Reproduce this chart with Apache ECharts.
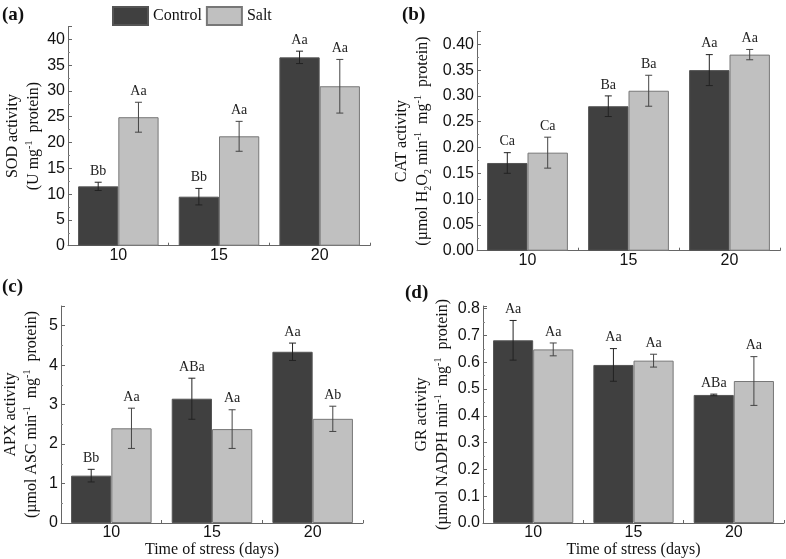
<!DOCTYPE html>
<html>
<head>
<meta charset="utf-8">
<script src="https://cdn.jsdelivr.net/npm/echarts@6/dist/echarts.min.js"></script>
<style>
html,body{margin:0;padding:0;background:#fff;}
#chart{width:786px;height:559px;}
</style>
</head>
<body>
<div id="chart"></div>
<script>
// ---- data ----
var categories = ['10', '15', '20'];
var seriesNames = ['Control', 'Salt'];

var sodControl = [11.5, 9.5, 36.5];
var sodControlErr = [0.8, 1.6, 1.2];
var sodSalt = [24.9, 21.2, 30.9];
var sodSaltErr = [2.9, 2.9, 5.2];
var sodControlLbl = ['Bb', 'Bb', 'Aa'];
var sodSaltLbl = ['Aa', 'Aa', 'Aa'];

var catControl = [0.17, 0.28, 0.35];
var catControlErr = [0.02, 0.02, 0.03];
var catSalt = [0.19, 0.31, 0.38];
var catSaltErr = [0.03, 0.03, 0.01];
var catControlLbl = ['Ca', 'Ba', 'Aa'];
var catSaltLbl = ['Ca', 'Ba', 'Aa'];

var apxControl = [1.2, 3.15, 4.34];
var apxControlErr = [0.16, 0.52, 0.22];
var apxSalt = [2.40, 2.38, 2.64];
var apxSaltErr = [0.51, 0.49, 0.32];
var apxControlLbl = ['Bb', 'ABa', 'Aa'];
var apxSaltLbl = ['Aa', 'Aa', 'Ab'];

var grControl = [0.682, 0.590, 0.478];
var grControlErr = [0.074, 0.061, 0.003];
var grSalt = [0.648, 0.606, 0.530];
var grSaltErr = [0.024, 0.024, 0.091];
var grControlLbl = ['Aa', 'Aa', 'ABa'];
var grSaltLbl = ['Aa', 'Aa', 'Aa'];

var sodTicks = {min: 0, max: 42.5, interval: 5, decimals: 0};
var catTicks = {min: 0, max: 0.425, interval: 0.05, decimals: 2};
var apxTicks = {min: 0, max: 5.5, interval: 1, decimals: 0};
var grTicks = {min: 0, max: 0.81, interval: 0.1, decimals: 1};

var xTitle = 'Time of stress (days)';
var panelLetters = ['(a)', '(b)', '(c)', '(d)'];

// ---- styling ----
var CONTROL_COLOR = '#404040';
var SALT_COLOR = '#c0c0c0';
var SERIF = '"Liberation Serif", "Times New Roman", serif';
var SANS = '"Liberation Sans", Arial, sans-serif';

var nameRich = {
  n: {fontFamily: SERIF, fontSize: 16, lineHeight: 21, color: '#111'},
  sup: {fontFamily: SERIF, fontSize: 10, lineHeight: 21, verticalAlign: 'top', color: '#111', padding: [1, 0, 0, 0]},
  sub: {fontFamily: SERIF, fontSize: 10, lineHeight: 21, verticalAlign: 'bottom', color: '#111', padding: [0, 0, 0, 0]}
};

var yNames = [
  '{n|SOD activity}\n{n|(U mg}{sup|-1}{n|  protein)}',
  '{n|CAT activity}\n{n|(µmol H}{sub|2}{n|O}{sub|2}{n| min}{sup|-1}{n|  mg}{sup|-1}{n|  protein)}',
  '{n|APX activity}\n{n|(µmol ASC min}{sup|-1}{n|  mg}{sup|-1}{n|  protein)}',
  '{n|GR activity}\n{n|(µmol NADPH min}{sup|-1}{n|  mg}{sup|-1}{n|  protein)}'
];
var nameGaps = [24, 44, 19, 30];

var grids = [
  {left: 68, top: 26.4, width: 302, height: 219.3},
  {left: 477, top: 31.4, width: 303, height: 219.3},
  {left: 61, top: 306, width: 302, height: 219.7},
  {left: 483, top: 306, width: 301, height: 219.5}
];

var panels = [
  {ticks: sodTicks, c: sodControl, ce: sodControlErr, s: sodSalt, se: sodSaltErr, cl: sodControlLbl, sl: sodSaltLbl},
  {ticks: catTicks, c: catControl, ce: catControlErr, s: catSalt, se: catSaltErr, cl: catControlLbl, sl: catSaltLbl},
  {ticks: apxTicks, c: apxControl, ce: apxControlErr, s: apxSalt, se: apxSaltErr, cl: apxControlLbl, sl: apxSaltLbl},
  {ticks: grTicks, c: grControl, ce: grControlErr, s: grSalt, se: grSaltErr, cl: grControlLbl, sl: grSaltLbl}
];

function errRenderer(offsetFrac, color) {
  return function (params, api) {
    var cat = api.value(0), val = api.value(1), err = api.value(2);
    var band = api.size([1, 0])[0];
    var x = api.coord([cat, 0])[0] + offsetFrac * band;
    var yTop = api.coord([cat, val + err])[1];
    var yBot = api.coord([cat, val - err])[1];
    var hw = 3.5;
    var st = {stroke: color, lineWidth: 1};
    return {
      type: 'group',
      children: [
        {type: 'line', shape: {x1: x, y1: yTop, x2: x, y2: yBot}, style: st},
        {type: 'line', shape: {x1: x - hw, y1: yTop, x2: x + hw, y2: yTop}, style: st},
        {type: 'line', shape: {x1: x - hw, y1: yBot, x2: x + hw, y2: yBot}, style: st}
      ]
    };
  };
}

function labelRenderer(offsetFrac, labels) {
  return function (params, api) {
    var cat = api.value(0), val = api.value(1), err = api.value(2);
    var band = api.size([1, 0])[0];
    var x = api.coord([cat, 0])[0] + offsetFrac * band;
    var yTop = api.coord([cat, val + err])[1];
    return {
      type: 'text',
      style: {
        text: labels[params.dataIndex], x: x, y: yTop - 4,
        align: 'center', verticalAlign: 'bottom',
        fontFamily: SERIF, fontSize: 14, fill: '#222'
      }
    };
  };
}

var xAxes = [], yAxes = [], series = [];
panels.forEach(function (p, i) {
  xAxes.push({
    type: 'category', gridIndex: i, data: categories,
    name: i >= 2 ? xTitle : '', nameLocation: 'middle', nameGap: 19,
    nameTextStyle: {fontFamily: SERIF, fontSize: 16, color: '#111'},
    axisLine: {lineStyle: {color: '#666', width: 1}},
    axisTick: {show: true, inside: true, length: 3, lineStyle: {color: '#666'}},
    axisLabel: {fontFamily: SANS, fontSize: 16, color: '#111', margin: 2}
  });
  var dec = p.ticks.decimals;
  yAxes.push({
    type: 'value', gridIndex: i, min: p.ticks.min, max: p.ticks.max, interval: p.ticks.interval,
    name: yNames[i], nameLocation: 'middle', nameGap: nameGaps[i], nameRotate: 90,
    nameTextStyle: {rich: nameRich},
    axisLine: {show: true, lineStyle: {color: '#666', width: 1}},
    axisTick: {show: true, inside: true, length: 4, lineStyle: {color: '#666'}},
    minorTick: {show: true, splitNumber: 2, length: 2, lineStyle: {color: '#888'}},
    splitLine: {show: false},
    axisLabel: {
      fontFamily: SANS, fontSize: 16, color: '#111', margin: 3, showMaxLabel: false,
      formatter: function (v) { return v.toFixed(dec); }
    }
  });
  series.push({
    name: seriesNames[0], type: 'bar', xAxisIndex: i, yAxisIndex: i,
    data: p.c, barGap: '0%', barCategoryGap: '20%',
    itemStyle: {color: CONTROL_COLOR, borderColor: '#555', borderWidth: 1}
  });
  series.push({
    name: seriesNames[1], type: 'bar', xAxisIndex: i, yAxisIndex: i,
    data: p.s, barGap: '0%', barCategoryGap: '20%',
    itemStyle: {color: SALT_COLOR, borderColor: '#777', borderWidth: 1}
  });
  var cd = p.c.map(function (v, k) { return [k, v, p.ce[k]]; });
  var sd = p.s.map(function (v, k) { return [k, v, p.se[k]]; });
  series.push({type: 'custom', xAxisIndex: i, yAxisIndex: i, z: 10, silent: true,
    renderItem: errRenderer(-0.2, '#222'), data: cd});
  series.push({type: 'custom', xAxisIndex: i, yAxisIndex: i, z: 10, silent: true,
    renderItem: errRenderer(0.2, '#444'), data: sd});
  series.push({type: 'custom', xAxisIndex: i, yAxisIndex: i, z: 11, silent: true,
    renderItem: labelRenderer(-0.2, p.cl), data: cd});
  series.push({type: 'custom', xAxisIndex: i, yAxisIndex: i, z: 11, silent: true,
    renderItem: labelRenderer(0.2, p.sl), data: sd});
});

var letterPos = [[2, 6], [402, 6], [2, 278], [405, 284]];
var graphics = panelLetters.map(function (t, i) {
  return {type: 'text', left: letterPos[i][0], top: letterPos[i][1],
    style: {text: t, fontFamily: SERIF, fontSize: 19, fontWeight: 'bold', fill: '#111'}};
});

var chart = echarts.init(document.getElementById('chart'), null, {renderer: 'canvas'});
chart.setOption({
  animation: false,
  backgroundColor: '#fff',
  legend: {
    data: seriesNames, left: 107, top: 1, itemWidth: 35, itemHeight: 18, itemGap: 4,
    icon: 'rect',
    textStyle: {fontFamily: SERIF, fontSize: 16, color: '#111'}
  },
  grid: grids,
  xAxis: xAxes,
  yAxis: yAxes,
  series: series,
  graphic: graphics
});
</script>
</body>
</html>
